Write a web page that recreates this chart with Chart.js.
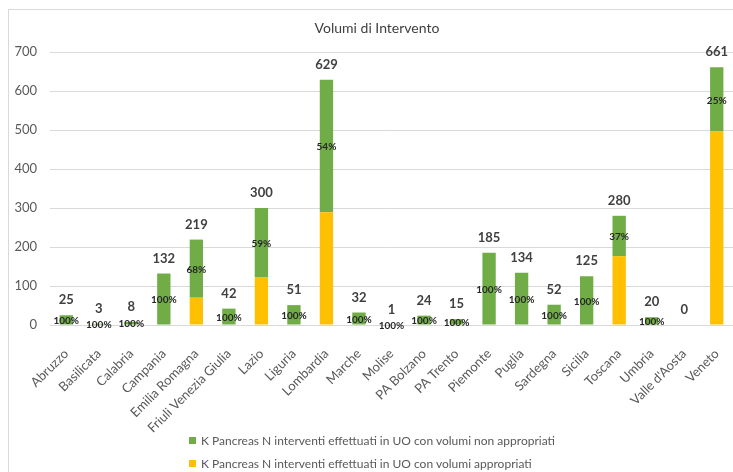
<!DOCTYPE html>
<html>
<head>
<meta charset="utf-8">
<script src="https://cdn.jsdelivr.net/npm/chart.js@4.4.1/dist/chart.umd.min.js"></script>
<style>
  html, body { margin: 0; padding: 0; background: #fff; }
  #wrap { position: relative; width: 733px; height: 472px; overflow: hidden; font-family: Lato, 'Open Sans', sans-serif; }
  #frame { position: absolute; left: 8px; top: 9px; width: 800px; height: 500px; border-left: 1px solid #d9d9d9; border-top: 1px solid #d9d9d9; }
  #title { position: absolute; left: 0; top: 19px; width: 754px; text-align: center; font-size: 14px; color: #404040; line-height: 18px; }
  #legend { position: absolute; left: 189px; top: 433px; font-size: 12px; color: #595959; }
  #legend .item { height: 23px; line-height: 16px; white-space: nowrap; }
  #legend .box { display: inline-block; width: 7px; height: 7px; margin-right: 5px; vertical-align: 1px; }
  canvas { position: absolute; left: 0; top: 0; }
</style>
</head>
<body>
<div id="wrap">
  <div id="frame"></div>
  <canvas id="chart" width="733" height="472"></canvas>
  <div id="title">Volumi di Intervento</div>
  <div id="legend"></div>
</div>
<script>
const categories = ['Abruzzo', 'Basilicata', 'Calabria', 'Campania', 'Emilia Romagna', 'Friuli Venezia Giulia',
  'Lazio', 'Liguria', 'Lombardia', 'Marche', 'Molise', 'PA Bolzano', 'PA Trento', 'Piemonte', 'Puglia',
  'Sardegna', 'Sicilia', 'Toscana', 'Umbria', "Valle d'Aosta", 'Veneto'];
const nonAppropriati = [25, 3, 8, 132, 149, 42, 177, 51, 340, 32, 1, 24, 15, 185, 134, 52, 125, 104, 20, 0, 165];
const appropriati = [0, 0, 0, 0, 70, 0, 123, 0, 289, 0, 0, 0, 0, 0, 0, 0, 0, 176, 0, 0, 496];
const yTicks = [0, 100, 200, 300, 400, 500, 600, 700];

const labelNon = 'K Pancreas N interventi effettuati in UO con volumi non appropriati';
const labelApp = 'K Pancreas N interventi effettuati in UO con volumi appropriati';
const green = '#70AD47';
const yellow = '#FFC000';
const FONT = "Lato, 'Open Sans', sans-serif";

// totals above the bars, share of "non appropriati" inside the green part
const valueLabels = {
  id: 'valueLabels',
  afterDatasetsDraw(chart) {
    const ctx = chart.ctx;
    const greenMeta = chart.getDatasetMeta(1);
    ctx.save();
    ctx.textAlign = 'center';
    ctx.textBaseline = 'middle';
    greenMeta.data.forEach((bar, i) => {
      const total = nonAppropriati[i] + appropriati[i];
      ctx.fillStyle = '#404040';
      ctx.font = 'bold 13px ' + FONT;
      ctx.fillText(String(total), bar.x, bar.y - 15);
      if (total > 0) {
        const pct = Math.round(nonAppropriati[i] / total * 100) + '%';
        ctx.fillStyle = '#262626';
        ctx.font = 'bold 10px ' + FONT;
        ctx.fillText(pct, bar.x, (bar.y + bar.base) / 2 + 1);
      }
    });
    ctx.restore();
  }
};

new Chart(document.getElementById('chart').getContext('2d'), {
  type: 'bar',
  data: {
    labels: categories,
    datasets: [
      { label: labelApp, data: appropriati, backgroundColor: yellow, barPercentage: 0.41, categoryPercentage: 1 },
      { label: labelNon, data: nonAppropriati, backgroundColor: green, barPercentage: 0.41, categoryPercentage: 1 }
    ]
  },
  options: {
    responsive: false,
    animation: false,
    layout: { padding: { top: 52, left: 0, right: 0, bottom: 0 } },
    plugins: {
      legend: { display: false },
      title: { display: false },
      tooltip: { enabled: false }
    },
    scales: {
      x: {
        stacked: true,
        grid: { display: false },
        border: { display: false },
        ticks: {
          autoSkip: false, minRotation: 45, maxRotation: 45, padding: 13,
          color: '#595959', font: { family: FONT, size: 13 }
        },
        afterFit: s => { s.height = 147; s.paddingLeft = 0; s.paddingRight = 0; }
      },
      y: {
        stacked: true,
        min: 0, max: 700,
        afterBuildTicks: s => { s.ticks = yTicks.map(v => ({ value: v })); },
        grid: { color: '#d9d9d9', drawTicks: false },
        border: { display: false },
        ticks: { padding: 13, color: '#595959', font: { family: FONT, size: 13 } },
        afterFit: s => { s.width = 50; }
      }
    }
  },
  plugins: [valueLabels]
});

// legend, green series first as in the original
const legend = document.getElementById('legend');
[[green, labelNon], [yellow, labelApp]].forEach(([c, t]) => {
  const row = document.createElement('div');
  row.className = 'item';
  row.innerHTML = '<span class="box" style="background:' + c + '"></span>' + t;
  legend.appendChild(row);
});
</script>
</body>
</html>
